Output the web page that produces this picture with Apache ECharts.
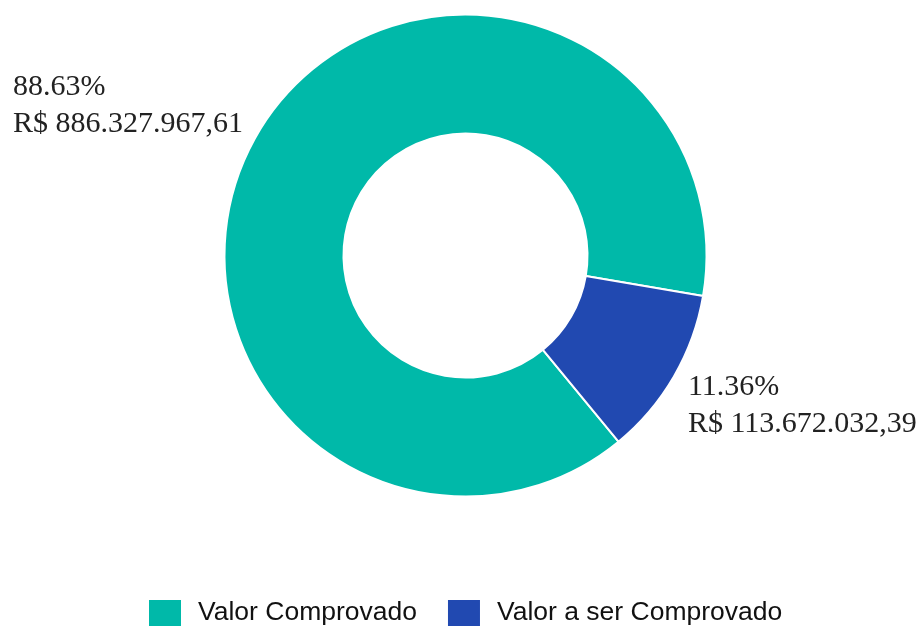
<!DOCTYPE html>
<html>
<head>
<meta charset="utf-8">
<script src="https://cdn.jsdelivr.net/npm/echarts@6/dist/echarts.min.js"></script>
<style>
  html, body { margin: 0; padding: 0; background: #fff; }
  #chart { width: 923px; height: 626px; }
</style>
</head>
<body>
<div id="chart"></div>
<script>
var categories = ["Valor Comprovado", "Valor a ser Comprovado"];
var values = [886327967.61, 113672032.39];
var percents = [88.63, 11.36];
var colors = ["#00b9a9", "#2149b1"];

// formata em reais: 886327967.61 -> 886.327.967,61
function brl(v) {
  var parts = v.toFixed(2).split(".");
  var inteiro = parts[0].replace(/\B(?=(\d{3})+(?!\d))/g, ".");
  return "R$ " + inteiro + "," + parts[1];
}

var seriesData = categories.map(function (name, i) {
  return { name: name, value: values[i] };
});

var myChart = echarts.init(document.getElementById("chart"));
myChart.setOption({
  animation: false,
  color: colors,
  legend: {
    data: categories,
    left: 147,
    top: 598,
    padding: 0,
    itemWidth: 34,
    itemHeight: 28,
    itemGap: 29,
    icon: "rect",
    textStyle: {
      fontFamily: "Liberation Sans",
      fontSize: 26.5,
      lineHeight: 28,
      color: "#111",
      padding: [0, 0, 0, 11]
    }
  },
  series: [
    {
      type: "pie",
      center: [465.5, 255.5],
      radius: [122, 241],
      startAngle: -50.6,
      clockwise: true,
      avoidLabelOverlap: false,
      itemStyle: {
        borderColor: "#fff",
        borderWidth: 2
      },
      label: {
        show: true,
        position: "outside",
        fontFamily: "Liberation Serif",
        fontSize: 30,
        lineHeight: 37,
        color: "#222",
        formatter: function (p) {
          return percents[p.dataIndex].toFixed(2) + "%\n" + brl(p.value);
        }
      },
      labelLine: { show: false, length: 0, length2: 9 },
      labelLayout: function (p) {
        // bloco alinhado à esquerda, acima ou abaixo da ponta da fatia
        return {
          x: p.labelRect.x,
          align: "left",
          dy: p.dataIndex === 0 ? -29 : 29
        };
      },
      emphasis: { disabled: true },
      data: seriesData
    }
  ]
});
</script>
</body>
</html>
